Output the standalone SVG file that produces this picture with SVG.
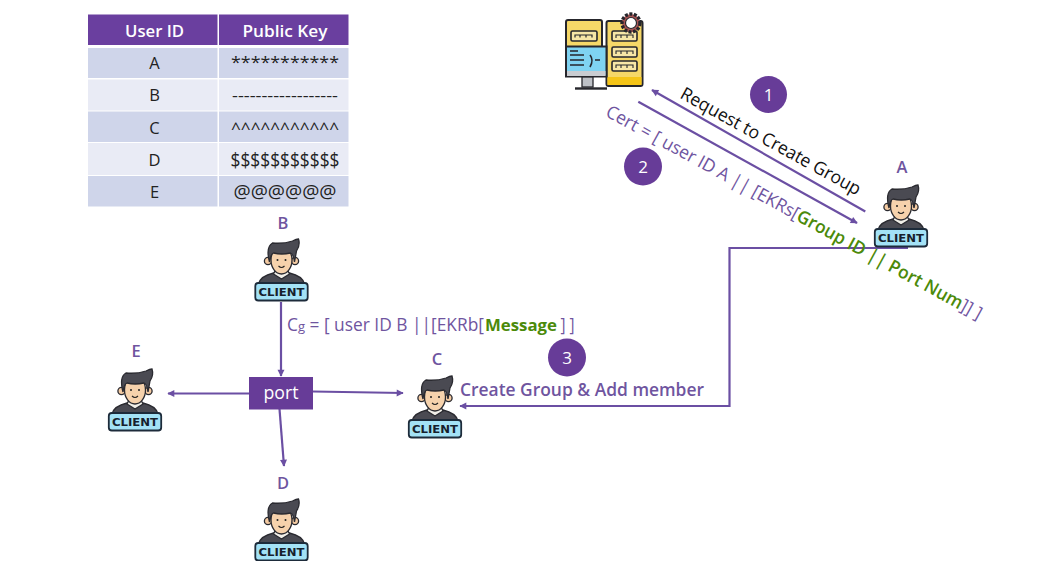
<svg xmlns="http://www.w3.org/2000/svg" width="1044" height="561" viewBox="0 0 1044 561">
<style>
text{font-family:"Open Sans","Noto Sans","Liberation Sans",sans-serif}
.hd{fill:#fff;font-weight:600;font-size:17px;text-anchor:middle}
.hdb{fill:#6a3f9f}
.r1{fill:#cfd5ea}
.r2{fill:#e9ebf5}
.cell{fill:#222;font-size:16.5px;text-anchor:middle}
.pl{fill:#6f559f}
.nl{fill:#6f559f;font-size:16.5px;font-weight:600;text-anchor:middle}
.num{fill:#fff;font-size:17px;text-anchor:middle}
.circ{fill:#673c98}
.cn{fill:none;stroke:#6b4fa3;stroke-width:2.2}
.gr{fill:#4b8a0a;font-weight:600}
.badge{fill:#a3e2f6;stroke:#1d2b3a;stroke-width:1.8}
.ol{stroke:#2a2a30;stroke-width:1.3}
</style>
<defs>
<marker id="ah" viewBox="0 0 10 10" refX="9" refY="5" markerWidth="8" markerHeight="7" orient="auto" markerUnits="userSpaceOnUse" overflow="visible">
<path d="M0 0L10 5L0 10Z" fill="#6b4fa3"/>
</marker>
<g id="client">
<path d="M-23 45Q-21 37-8 34L8 34Q21 37 23 45Z" fill="#4a4a52" class="ol"/>
<path d="M-8 35L0 40L8 35L6 31L-6 31Z" fill="#f1efe9" class="ol"/>
<circle cx="-13.5" cy="22" r="3.6" fill="#f4cba2" class="ol"/>
<circle cx="13.5" cy="22" r="3.6" fill="#f4cba2" class="ol"/>
<ellipse cx="0" cy="21" rx="10.5" ry="14" fill="#f6d2ac" class="ol"/>
<path d="M-12 23Q-16 8-9 4Q2 5 11 2Q15 0 17 0Q19 6 15 12L13 23Q12 15 9 14Q0 16-8 14Q-11 15-12 23Z" fill="#4a4a52" class="ol"/>
<circle cx="-4" cy="21" r="1" fill="#222"/>
<circle cx="4" cy="21" r="1" fill="#222"/>
<path d="M-3 27Q0 30 3 27" fill="none" stroke="#222" stroke-width="1.1"/>
<rect x="-26.2" y="44" width="52.4" height="17.5" rx="3" class="badge"/>
<text x="0" y="57" font-size="11" font-weight="700" text-anchor="middle" fill="#16202c" style="font-family:'DejaVu Sans',sans-serif" textLength="46" lengthAdjust="spacingAndGlyphs">CLIENT</text>
</g>
</defs>
<rect width="1044" height="561" fill="#fff"/>

<g id="table">
<rect class="hdb" x="88" y="14.5" width="129.5" height="30.5"/>
<rect class="hdb" x="219" y="14.5" width="129.5" height="30.5"/>
<rect class="r1" x="88" y="48" width="129.5" height="30"/><rect class="r1" x="219" y="48" width="129.5" height="30"/>
<rect class="r2" x="88" y="79.5" width="129.5" height="31"/><rect class="r2" x="219" y="79.5" width="129.5" height="31"/>
<rect class="r1" x="88" y="111.5" width="129.5" height="30.5"/><rect class="r1" x="219" y="111.5" width="129.5" height="30.5"/>
<rect class="r2" x="88" y="143" width="129.5" height="32"/><rect class="r2" x="219" y="143" width="129.5" height="32"/>
<rect class="r1" x="88" y="176" width="129.5" height="30.5"/><rect class="r1" x="219" y="176" width="129.5" height="30.5"/>
<text class="hd" x="154.5" y="37" textLength="59" lengthAdjust="spacingAndGlyphs">User ID</text>
<text class="hd" x="285" y="37" textLength="85" lengthAdjust="spacingAndGlyphs">Public Key</text>
<text class="cell" x="154.5" y="69">A</text>
<text class="cell" x="154.5" y="101">B</text>
<text class="cell" x="154.5" y="134">C</text>
<text class="cell" x="154.5" y="166">D</text>
<text class="cell" x="154.5" y="198">E</text>
<text class="cell" x="285" y="68" textLength="108" lengthAdjust="spacingAndGlyphs">***********</text>
<text class="cell" x="285" y="101" textLength="106" lengthAdjust="spacingAndGlyphs">------------------</text>
<text class="cell" x="285" y="134" textLength="108" lengthAdjust="spacingAndGlyphs">^^^^^^^^^^^</text>
<text class="cell" x="285" y="167" textLength="109" lengthAdjust="spacingAndGlyphs" style="font-size:19.5px">$$$$$$$$$$$</text>
<text class="cell" x="285" y="198" textLength="103" lengthAdjust="spacingAndGlyphs" style="font-size:17.5px">@@@@@@</text>
</g>

<g id="server">
<rect x="606.5" y="21" width="36" height="65" rx="2" fill="#f6d868" stroke="#26262c" stroke-width="2"/>
<rect x="607.5" y="77" width="34" height="8" fill="#f5c518"/>
<rect x="566" y="20" width="36" height="30" rx="2" fill="#f6d868" stroke="#26262c" stroke-width="2"/>
<rect x="571" y="31" width="26" height="10" rx="1.5" fill="#f7e6a6" stroke="#26262c" stroke-width="1.6"/>
<path d="M575 37.5V35H592V37.5M580 35V37.5M586 35V37.5" fill="none" stroke="#26262c" stroke-width="1.2"/>
<rect x="566" y="46.5" width="40.5" height="30" fill="#7fd3f2" stroke="#26262c" stroke-width="2"/>
<rect x="567" y="71" width="38.5" height="5" fill="#c9ccd1"/>
<path d="M570 51H578M570 55H584M570 60H584M570 65H584M590 55Q594 60 590 67M595 60H600" fill="none" stroke="#26262c" stroke-width="1.6"/>
<rect x="582" y="77" width="11" height="10" fill="#bdc0c6" stroke="#26262c" stroke-width="1.3"/>
<path d="M575 88.5H607" stroke="#26262c" stroke-width="2.4"/>
<g fill="#f7e6a6" stroke="#26262c" stroke-width="1.6">
<rect x="612" y="31" width="25" height="10" rx="1.5"/>
<rect x="612" y="47" width="25" height="10" rx="1.5"/>
<rect x="612" y="61" width="25" height="10" rx="1.5"/>
</g>
<path d="M616 38V35H633V38M621 35V38M627 35V38M616 54V51H633V54M621 51V54M627 51V54M616 68V65H633V68M621 65V68M627 65V68" fill="none" stroke="#26262c" stroke-width="1.1"/>
<circle cx="631" cy="23" r="9" fill="#a95454" stroke="#26262c" stroke-width="3.4" stroke-dasharray="3 1.5"/>
<circle cx="631" cy="23" r="5.5" fill="#fff" stroke="#26262c" stroke-width="1.2"/>
</g>

<g id="connectors">
<path class="cn" marker-end="url(#ah)" d="M865.3 211.5L652 90"/>
<path class="cn" marker-end="url(#ah)" d="M638.3 101.7L857 223"/>
<path class="cn" marker-end="url(#ah)" d="M908 248H729.5V406H460"/>
<path class="cn" marker-end="url(#ah)" d="M281 302V376"/>
<path class="cn" marker-end="url(#ah)" d="M249 393.5H168"/>
<path class="cn" marker-end="url(#ah)" d="M313 391.5L403 393"/>
<path class="cn" marker-end="url(#ah)" d="M279.5 409L284 466"/>
</g>

<g id="node-a"><text class="nl" x="902" y="173">A</text><use href="#client" x="901" y="185"/></g>
<g id="node-b"><text class="nl" x="283" y="229">B</text><use href="#client" x="281.5" y="239"/></g>
<g id="node-c"><text class="nl" x="437" y="365">C</text><use href="#client" x="435" y="376"/></g>
<g id="node-d"><text class="nl" x="283" y="489">D</text><use href="#client" x="281.5" y="499"/></g>
<g id="node-e"><text class="nl" x="136" y="357">E</text><use href="#client" x="135" y="369"/></g>

<g id="node-port">
<rect x="249" y="377" width="64" height="32.5" fill="#673c98"/>
<text x="281" y="399" fill="#fff" font-size="18" text-anchor="middle" textLength="35" lengthAdjust="spacingAndGlyphs">port</text>
</g>

<g id="badge-1"><circle class="circ" cx="768.5" cy="94.5" r="18.5"/><text class="num" x="768.5" y="100.5">1</text></g>
<g id="badge-2"><circle class="circ" cx="643" cy="166.5" r="19"/><text class="num" x="643" y="172.5">2</text></g>
<g id="badge-3"><circle class="circ" cx="567" cy="357.5" r="19"/><text class="num" x="567" y="363.5">3</text></g>

<g id="labels">
<text transform="translate(679 97.5) rotate(28.9)" font-size="18" fill="#111" textLength="203" lengthAdjust="spacingAndGlyphs">Request to Create Group</text>
<text transform="translate(604.5 115.5) rotate(28.7)" font-size="18" class="pl" textLength="426" lengthAdjust="spacingAndGlyphs">Cert = [ user ID A || [EKRs[<tspan class="gr">Group ID || Port Num</tspan>]] ]</text>
<text x="287" y="331" font-size="18" class="pl" textLength="197" lengthAdjust="spacingAndGlyphs">C<tspan font-size="13.5">g</tspan> = [ user ID B ||[EKRb[</text>
<text x="485" y="331" font-size="16.5" class="gr" style="font-weight:700" textLength="72" lengthAdjust="spacingAndGlyphs">Message</text>
<text x="560.5" y="331" font-size="18" class="pl" textLength="14" lengthAdjust="spacingAndGlyphs">] ]</text>
<text x="460" y="396" font-size="18" font-weight="600" class="pl" textLength="244" lengthAdjust="spacingAndGlyphs">Create Group &amp; Add member</text>
</g>
</svg>
